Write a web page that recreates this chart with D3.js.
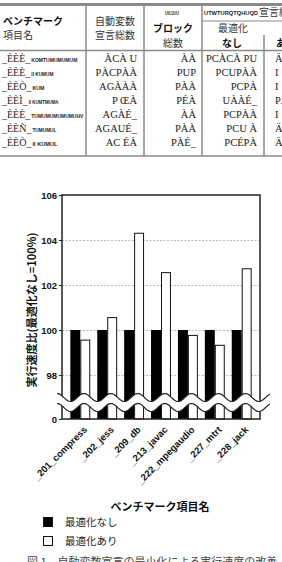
<!DOCTYPE html>
<html>
<head>
<meta charset="utf-8">
<script src="https://cdn.jsdelivr.net/npm/d3@7"></script>
<style>
  body { margin: 0; background: #fff; }
  svg { display: block; }
</style>
</head>
<body>
<div id="chart"></div>
<script>
// datos del grafico
const benchmarks = ["_201_compress", "_202_jess", "_209_db", "_213_javac", "_222_mpegaudio", "_227_mtrt", "_228_jack"];
const sinOptimizar = [100, 100, 100, 100, 100, 100, 100];
const conOptimizar = [99.55, 100.55, 104.3, 102.55, 99.76, 99.32, 102.72];
const yTicks = [0, 98, 100, 102, 104, 106];
const gridTicks = [98, 100, 102, 104];

// tabla (texto tal como aparece)
const colNombre = ["_ÈÈÈ_", "_ÈÈÈ_", "_ÈÈÒ_", "_ÈÈÌ_", "_ÈÈÈ_", "_ÈÈÑ_", "_ÈÈÒ_"];
const colNombreSub = ["KOMTUMUMUMUM", "II KUMUM", "KUM", "II KUMTMUMA", "TUMUMUMUMUMUHV", "TUMUMUL", "II KUMUL"];
const colVariables = ["ÀCÀ U", "PÀCPÀÀ", "AGÀÀÀ", "P ŒÀ", "AGÀÉ_", "AGAUÉ_", "AC ÉÀ"];
const colBloques = ["ÀÀ", "PUP", "PÀÀ", "PÉÀ", "ÀÀ", "PÀÀ", "PÀÉ_"];
const colNinguna = ["PCÀCÀ PU", "PCUPÀÀ", "PCPÀ", "UÀÀÉ_", "PCPÀÀ", "PCU À", "PCÉPÀ"];
const colAlguna = ["Ä", "I", "I", "PÄ", "I", "Ä", "Ä"];

const ancho = 282;
const alto = 562;

const svg = d3.select("#chart")
	.append("svg")
	.attr("width", ancho)
	.attr("height", alto)
	.style("font-family", "'Liberation Sans', Arial, sans-serif");

// ---------- tabla ----------
const tabla = svg.append("g");
const gris = "#8a8a8a";
const jp = "'Noto Sans CJK JP', sans-serif";

tabla.append("line").attr("x1", 0).attr("x2", ancho).attr("y1", 4.5).attr("y2", 4.5)
	.attr("stroke", gris).attr("stroke-width", 3);
tabla.append("line").attr("x1", 0).attr("x2", ancho).attr("y1", 50.5).attr("y2", 50.5)
	.attr("stroke", gris).attr("stroke-width", 1.5);
tabla.append("line").attr("x1", 0).attr("x2", ancho).attr("y1", 156).attr("y2", 156)
	.attr("stroke", gris).attr("stroke-width", 1.5);
[86, 144, 202].forEach(x => {
	tabla.append("line").attr("x1", x).attr("x2", x).attr("y1", 6).attr("y2", 156)
		.attr("stroke", gris).attr("stroke-width", 1.5);
});
tabla.append("line").attr("x1", 202).attr("x2", ancho).attr("y1", 21).attr("y2", 21)
	.attr("stroke", gris).attr("stroke-width", 1);
tabla.append("line").attr("x1", 264).attr("x2", 264).attr("y1", 35).attr("y2", 156)
	.attr("stroke", gris).attr("stroke-width", 1.5);

function texto(x, y, t, opts) {
	return tabla.append("text")
		.attr("x", x).attr("y", y)
		.attr("text-anchor", opts.anchor || "start")
		.attr("font-family", opts.family || jp)
		.attr("font-size", opts.size || 10)
		.attr("font-weight", opts.weight || "normal")
		.attr("fill", opts.fill || "#333")
		.text(t);
}

texto(3, 25, "ベンチマーク", { weight: "bold", fill: "#111" });
texto(3, 39, "項目名", {});
texto(115, 25, "自動変数", { anchor: "middle" });
texto(115, 39, "宣言総数", { anchor: "middle" });
texto(172, 15, "UIUJUU", { anchor: "middle", size: 6, weight: "bold", family: "'Liberation Sans', sans-serif", fill: "#222" })
	.attr("textLength", 14).attr("lengthAdjust", "spacingAndGlyphs");
texto(173, 32, "ブロック", { anchor: "middle", weight: "bold", fill: "#111" });
texto(173, 47, "総数", { anchor: "middle" });
texto(204, 15, "UTWTURQTQHUQD", { size: 6, weight: "bold", family: "'Liberation Sans', sans-serif", fill: "#222" })
	.attr("textLength", 54).attr("lengthAdjust", "spacingAndGlyphs");
texto(259, 16, "宣言総数", {});
texto(233, 32, "最適化", { anchor: "middle" });
texto(232, 47, "なし", { anchor: "middle", weight: "bold", fill: "#111" });
texto(276, 47, "あり", { anchor: "start", weight: "bold", fill: "#111" });

const filaY = d3.scaleLinear().domain([0, 6]).range([62, 146]);
const serif = "'Liberation Serif', 'DejaVu Serif', serif";
const subLargo = [46, 22, 12, 30, 52, 24, 25];

colNombre.forEach((d, i) => {
	const t = texto(2, filaY(i), d, { family: serif, size: 10, fill: "#222" });
	const fin = 2 + t.node().getComputedTextLength() + 1;
	texto(fin, filaY(i), colNombreSub[i], { size: 6, weight: "bold", family: "'Liberation Sans', sans-serif", fill: "#222" })
		.attr("textLength", subLargo[i]).attr("lengthAdjust", "spacingAndGlyphs");
});
colVariables.forEach((d, i) => texto(137, filaY(i), d, { anchor: "end", family: serif, size: 10.5, fill: "#222" }));
colBloques.forEach((d, i) => texto(196, filaY(i), d, { anchor: "end", family: serif, size: 10.5, fill: "#222" }));
colNinguna.forEach((d, i) => texto(257, filaY(i), d, { anchor: "end", family: serif, size: 10.5, fill: "#222" }));
colAlguna.forEach((d, i) => texto(275, filaY(i), d, { family: serif, size: 10.5, fill: "#222" }));

// ---------- grafico ----------
const marginLeft = 62;
const marginRight = 260;
const yTop = 195;
const yCero = 419;

const xScale = d3.scaleBand()
	.domain(benchmarks)
	.range([marginLeft, marginRight])
	.paddingInner(0)
	.paddingOuter(0.18);

// eje Y cortado: 0 abajo, luego 97..106
const yScale = d3.scaleLinear()
	.domain([0, 97, 106])
	.range([yCero, 397.5, yTop]);

const barAncho = xScale.bandwidth() * 0.37;

// lineas de grilla
svg.append("g")
	.attr("transform", "translate(" + marginLeft + ",0)")
	.call(d3.axisLeft(yScale).tickValues(gridTicks).tickSize(-(marginRight - marginLeft)).tickFormat(""))
	.call(g => g.select(".domain").remove())
	.selectAll("line")
	.attr("stroke", "#aaa")
	.attr("stroke-dasharray", "2,1.5")
	.attr("stroke-width", 0.8);

const grupos = svg.append("g")
	.selectAll("g")
	.data(benchmarks)
	.enter()
	.append("g")
	.attr("transform", d => "translate(" + (xScale(d) + xScale.bandwidth() / 2) + ",0)");

grupos.append("rect")
	.attr("x", -barAncho)
	.attr("y", (d, i) => yScale(sinOptimizar[i]))
	.attr("width", barAncho)
	.attr("height", (d, i) => yScale(0) - yScale(sinOptimizar[i]))
	.attr("fill", "#000");

grupos.append("rect")
	.attr("x", 0.5)
	.attr("y", (d, i) => yScale(conOptimizar[i]))
	.attr("width", barAncho - 1)
	.attr("height", (d, i) => yScale(0) - yScale(conOptimizar[i]))
	.attr("fill", "#fff")
	.attr("stroke", "#111")
	.attr("stroke-width", 1);

// marco
svg.append("rect")
	.attr("x", marginLeft)
	.attr("y", yTop)
	.attr("width", marginRight - marginLeft)
	.attr("height", yCero - yTop)
	.attr("fill", "none")
	.attr("stroke", "#222")
	.attr("stroke-width", 1.5);

// eje Y
svg.append("g")
	.attr("transform", "translate(" + marginLeft + ",0)")
	.call(d3.axisLeft(yScale).tickValues(yTicks).tickSize(3).tickPadding(2))
	.call(g => g.select(".domain").remove())
	.call(g => g.selectAll("line").attr("stroke", "#222"))
	.selectAll("text")
	.attr("font-size", 9.5)
	.attr("font-weight", "bold")
	.attr("fill", "#111");

// corte ondulado
const paso = xScale.step();
const ondaX = d3.range(57, 271, 1);
const onda = (c) => ondaX.map(x => [x, c - 4 * Math.cos(2 * Math.PI * (x - 84) / paso)]);
const ondaSup = onda(397.5);
const ondaInf = onda(407.5);
const linea = d3.line();
svg.append("path")
	.attr("d", linea(ondaSup.concat(ondaInf.slice().reverse())) + "Z")
	.attr("fill", "#fff");
[ondaSup, ondaInf].forEach(p => {
	svg.append("path")
		.attr("d", linea(p))
		.attr("fill", "none")
		.attr("stroke", "#222")
		.attr("stroke-width", 1.2);
});

// etiquetas eje X
svg.append("g")
	.attr("transform", "translate(0," + yCero + ")")
	.call(d3.axisBottom(xScale).tickSize(0).tickPadding(0))
	.call(g => g.select(".domain").remove())
	.selectAll("text")
	.attr("font-size", 9.5)
	.attr("font-weight", "bold")
	.attr("fill", "#111")
	.style("text-anchor", "end")
	.attr("x", 0)
	.attr("y", 0)
	.attr("dx", 0)
	.attr("dy", "0.35em")
	.attr("transform", "translate(5,9) rotate(-45)");

// titulos
svg.append("text")
	.attr("x", 160)
	.attr("y", 511)
	.attr("text-anchor", "middle")
	.attr("font-family", jp)
	.attr("font-size", 11)
	.attr("font-weight", "bold")
	.attr("fill", "#111")
	.text("ベンチマーク項目名");

svg.append("text")
	.attr("transform", "translate(36,310) rotate(-90)")
	.attr("text-anchor", "middle")
	.attr("font-family", jp)
	.attr("font-size", 11)
	.attr("font-weight", "bold")
	.attr("fill", "#111")
	.text("実行速度比(最適化なし=100%)");

// leyenda
const leyenda = [["最適化なし", "#000"], ["最適化あり", "#fff"]];
leyenda.forEach((d, i) => {
	svg.append("rect")
		.attr("x", 43.5).attr("y", 517.5 + i * 19)
		.attr("width", 9).attr("height", 9)
		.attr("fill", d[1]).attr("stroke", "#111").attr("stroke-width", 1);
	svg.append("text")
		.attr("x", 65).attr("y", 526 + i * 19)
		.attr("font-family", jp)
		.attr("font-size", 10.5)
		.attr("fill", "#222")
		.text(d[0]);
});

// pie
svg.append("text")
	.attr("x", 27)
	.attr("y", 566)
	.attr("font-family", jp)
	.attr("font-size", 11)
	.attr("fill", "#444")
	.text("図 1　自動変数宣言の最小化による実行速度の改善");
</script>
</body>
</html>
